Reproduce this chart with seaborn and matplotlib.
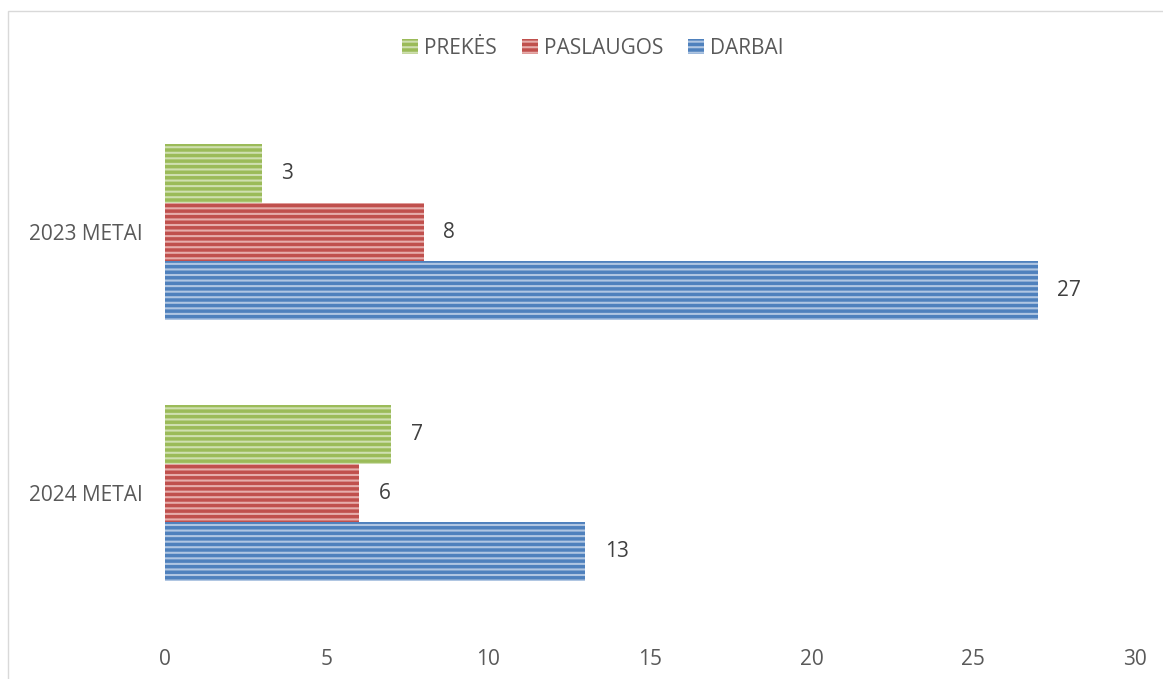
import matplotlib.pyplot as plt
import matplotlib.patches as mpatches
import pandas as pd
import seaborn as sns

# data
years = ["2023 METAI", "2024 METAI"]
series = ["PREKĖS", "PASLAUGOS", "DARBAI"]
prekes = [3, 7]
paslaugos = [8, 6]
darbai = [27, 13]
x_ticks = [0, 5, 10, 15, 20, 25, 30]

colors = {"PREKĖS": "#9BBB59", "PASLAUGOS": "#C0504D", "DARBAI": "#4F81BD"}
stripes = {"PREKĖS": "#CFDFB0", "PASLAUGOS": "#E6ADAB", "DARBAI": "#B0C6E2"}
text_color = "#595959"

df = pd.DataFrame({
    "year": years * 3,
    "series": [s for s in series for _ in years],
    "value": prekes + paslaugos + darbai,
})

sns.set_theme(style="white")
plt.rcParams["font.family"] = ["Open Sans", "DejaVu Sans"]
plt.rcParams["hatch.linewidth"] = 1.5

fig = plt.figure(figsize=(11.63, 6.79), dpi=100)
ax = fig.add_axes([0.1419, 0.0817, 0.8340, 0.7688])

sns.barplot(
    data=df, y="year", x="value", hue="series",
    order=years, hue_order=series, palette=colors,
    orient="h", width=0.674, gap=0, saturation=1,
    ax=ax, legend=False,
)

for container, name in zip(ax.containers, series):
    for bar in container:
        bar.set_hatch("---")
        bar.set_edgecolor(stripes[name])
        bar.set_linewidth(0)
    ax.bar_label(container, padding=14, fontsize=15, color="#404040")

ax.set_xlim(0, 30)
ax.set_xticks(x_ticks)
ax.set_xlabel("")
ax.set_ylabel("")
ax.tick_params(axis="both", length=0, labelsize=15, labelcolor=text_color)
ax.tick_params(axis="x", pad=18)
ax.tick_params(axis="y", pad=16)
for side in ax.spines.values():
    side.set_visible(False)

handles = [
    mpatches.Patch(facecolor=colors[s], edgecolor=stripes[s], hatch="---", linewidth=0, label=s)
    for s in series
]
fig.legend(
    handles=handles, loc="center", bbox_to_anchor=(0.51, 0.929), ncol=3,
    frameon=False, fontsize=15, labelcolor=text_color,
    handlelength=0.75, handleheight=0.75, handletextpad=0.3, columnspacing=1.2,
)

# chart frame
fig.add_artist(mpatches.Rectangle(
    (8 / 1163, -0.1), 1.2, 1.1 - 11 / 679, transform=fig.transFigure,
    fill=False, edgecolor="#D9D9D9", linewidth=1,
))

fig.savefig("out.png", dpi=100)
